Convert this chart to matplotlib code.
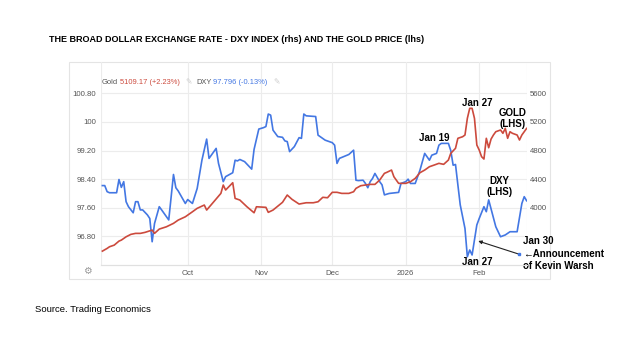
import pandas as pd
import matplotlib.pyplot as plt
from matplotlib.patches import Rectangle

# Dollar index (left scale) - daily closes
dxy_dates = [
    '2025-08-26', '2025-08-27', '2025-08-28', '2025-08-29', '2025-09-01', '2025-09-02',
    '2025-09-03', '2025-09-04', '2025-09-05', '2025-09-06', '2025-09-08', '2025-09-09',
    '2025-09-10', '2025-09-11', '2025-09-12', '2025-09-14', '2025-09-15', '2025-09-16',
    '2025-09-17', '2025-09-19', '2025-09-20', '2025-09-23', '2025-09-25', '2025-09-26',
    '2025-09-27', '2025-09-30', '2025-10-01', '2025-10-03', '2025-10-05', '2025-10-07',
    '2025-10-09', '2025-10-10', '2025-10-13', '2025-10-14', '2025-10-16', '2025-10-17',
    '2025-10-20', '2025-10-21', '2025-10-22', '2025-10-23', '2025-10-25', '2025-10-28',
    '2025-10-29', '2025-10-31', '2025-11-02', '2025-11-03', '2025-11-04', '2025-11-05',
    '2025-11-06', '2025-11-08', '2025-11-10', '2025-11-11', '2025-11-12', '2025-11-13',
    '2025-11-15', '2025-11-17', '2025-11-18', '2025-11-19', '2025-11-20', '2025-11-24',
    '2025-11-25', '2025-11-28', '2025-12-01', '2025-12-02', '2025-12-03', '2025-12-04',
    '2025-12-08', '2025-12-10', '2025-12-11', '2025-12-12', '2025-12-14', '2025-12-15',
    '2025-12-16', '2025-12-17', '2025-12-18', '2025-12-19', '2025-12-21', '2025-12-22',
    '2025-12-23', '2025-12-25', '2025-12-29', '2025-12-30', '2026-01-01', '2026-01-02',
    '2026-01-03', '2026-01-05', '2026-01-07', '2026-01-09', '2026-01-11', '2026-01-12',
    '2026-01-14', '2026-01-15', '2026-01-16', '2026-01-19', '2026-01-20', '2026-01-21',
    '2026-01-22', '2026-01-23', '2026-01-24', '2026-01-26', '2026-01-27', '2026-01-28',
    '2026-01-29', '2026-01-31', '2026-02-01', '2026-02-03', '2026-02-04', '2026-02-05',
    '2026-02-08', '2026-02-10', '2026-02-12', '2026-02-14', '2026-02-17', '2026-02-19',
    '2026-02-20', '2026-02-21',
]
dxy_values = [
    98.22, 98.22, 98.05, 98.02, 98.02, 98.39,
    98.17, 98.33, 97.77, 97.63, 97.46, 97.77,
    97.77, 97.54, 97.54, 97.40, 97.30, 96.65,
    97.16, 97.63, 97.54, 97.26, 98.53, 98.16,
    98.07, 97.72, 97.83, 97.72, 98.14, 98.93,
    99.52, 98.98, 99.26, 98.84, 98.33, 98.47,
    98.58, 98.93, 98.91, 98.95, 98.89, 98.68,
    99.23, 99.80, 99.84, 99.87, 100.22, 100.19,
    99.77, 99.59, 99.57, 99.47, 99.45, 99.17,
    99.31, 99.56, 99.54, 100.22, 100.17, 100.15,
    99.63, 99.49, 99.42, 99.35, 98.84, 98.98,
    99.09, 99.21, 98.37, 98.36, 98.37, 98.28,
    98.16, 98.33, 98.42, 98.56, 98.33, 98.24,
    97.96, 98.00, 98.03, 98.28, 98.33, 98.40,
    98.28, 98.28, 98.65, 99.12, 98.93, 99.07,
    99.12, 99.35, 99.40, 99.40, 99.20, 98.79,
    98.81, 98.24, 97.68, 97.02, 96.23, 96.42,
    96.28, 97.12, 97.30, 97.63, 97.49, 97.82,
    97.07, 96.79, 96.84, 96.93, 96.93, 97.72,
    97.91, 97.796,
]

# Gold price in USD/oz (right scale)
gold_dates = [
    '2025-08-26', '2025-08-28', '2025-08-29', '2025-08-31', '2025-09-02', '2025-09-03',
    '2025-09-05', '2025-09-07', '2025-09-09', '2025-09-11', '2025-09-13', '2025-09-16',
    '2025-09-17', '2025-09-19', '2025-09-22', '2025-09-25', '2025-09-27', '2025-09-30',
    '2025-10-03', '2025-10-05', '2025-10-08', '2025-10-09', '2025-10-12', '2025-10-15',
    '2025-10-16', '2025-10-17', '2025-10-20', '2025-10-21', '2025-10-23', '2025-10-26',
    '2025-10-29', '2025-10-30', '2025-11-03', '2025-11-04', '2025-11-06', '2025-11-10',
    '2025-11-12', '2025-11-14', '2025-11-17', '2025-11-20', '2025-11-23', '2025-11-25',
    '2025-11-27', '2025-11-29', '2025-12-01', '2025-12-03', '2025-12-05', '2025-12-08',
    '2025-12-10', '2025-12-11', '2025-12-13', '2025-12-15', '2025-12-17', '2025-12-19',
    '2025-12-21', '2025-12-23', '2025-12-24', '2025-12-26', '2025-12-27', '2025-12-29',
    '2026-01-01', '2026-01-03', '2026-01-05', '2026-01-07', '2026-01-09', '2026-01-11',
    '2026-01-13', '2026-01-15', '2026-01-17', '2026-01-19', '2026-01-20', '2026-01-22',
    '2026-01-23', '2026-01-25', '2026-01-26', '2026-01-27', '2026-01-28', '2026-01-29',
    '2026-01-30', '2026-01-31', '2026-02-01', '2026-02-02', '2026-02-03', '2026-02-04',
    '2026-02-05', '2026-02-06', '2026-02-07', '2026-02-08', '2026-02-10', '2026-02-11',
    '2026-02-12', '2026-02-13', '2026-02-14', '2026-02-15', '2026-02-17', '2026-02-18',
    '2026-02-19', '2026-02-20', '2026-02-21',
]
gold_values = [
    3394, 3432, 3455, 3478, 3534, 3548,
    3594, 3628, 3642, 3642, 3656, 3688,
    3642, 3702, 3734, 3782, 3828, 3874,
    3944, 3992, 4038, 3968, 4084, 4201,
    4318, 4248, 4350, 4131, 4108, 4014,
    3930, 4014, 4006, 3936, 3968, 4076,
    4178, 4118, 4052, 4070, 4070, 4084,
    4146, 4140, 4216, 4216, 4201, 4201,
    4224, 4271, 4308, 4318, 4327, 4327,
    4387, 4481, 4495, 4527, 4434, 4341,
    4341, 4364, 4411, 4490, 4527, 4574,
    4597, 4621, 4607, 4667, 4761, 4831,
    4971, 4993, 5017, 5250, 5390, 5390,
    5250, 4877, 4807, 4714, 4681, 4971,
    4839, 4960, 5017, 5063, 5087, 5041,
    5110, 4971, 5063, 5041, 5017, 4947,
    5017, 5063, 5109.17,
]

# axis ticks
dxy_ticks = [96.80, 97.60, 98.40, 99.20, 100.00, 100.80]
dxy_tick_labels = ['96.80', '97.60', '98.40', '99.20', '100', '100.80']
gold_ticks = [4000, 4400, 4800, 5200, 5600]
month_ticks = ['2025-10-01', '2025-11-01', '2025-12-01', '2026-01-01', '2026-02-01']
month_labels = ['Oct', 'Nov', 'Dec', '2026', 'Feb']

gold_change = '+2.23%'
dxy_change = '-0.13%'

RED = '#cc4a3d'
BLUE = '#4377e3'
GRID = '#ececec'
TICK = '#555555'
SANS = ['Liberation Sans', 'DejaVu Sans']

dxy = pd.Series(dxy_values, index=pd.to_datetime(dxy_dates))
gold = pd.Series(gold_values, index=pd.to_datetime(gold_dates))

fig = plt.figure(figsize=(6.2, 3.49), dpi=100)
W, H = 620, 349

# white card behind the chart
fig.patches.append(Rectangle((69 / W, 1 - 279 / H), (550 - 69) / W, (279 - 62) / H,
                             transform=fig.transFigure, facecolor='white',
                             edgecolor='#e4e4e4', linewidth=0.8, zorder=-10))

ax = fig.add_axes([101 / W, 1 - 265 / H, (526.7 - 101) / W, (265 - 62) / H])
ax.patch.set_alpha(0)
ax2 = ax.twinx()

ax.set_ylim(96.0, 101.675)
ax2.set_ylim(3200, 6037.5)
ax.set_xlim(pd.Timestamp('2025-08-25 10:00'), pd.Timestamp('2026-02-21 01:00'))

ax.plot(dxy.index, dxy.values, color=BLUE, lw=1.2, zorder=3)
ax2.plot(gold.index, gold.values, color=RED, lw=1.2, zorder=3)

# grid
ax.set_yticks(dxy_ticks)
ax.set_yticklabels(dxy_tick_labels)
ax.set_xticks(pd.to_datetime(month_ticks))
ax.set_xticklabels(month_labels)
ax.grid(True, color=GRID, lw=0.8)
ax.set_axisbelow(True)
ax2.set_yticks(gold_ticks)

for a in (ax, ax2):
    for side in ('top', 'right', 'left'):
        a.spines[side].set_visible(False)
    a.spines['bottom'].set_color('#e0e0e0')
    a.tick_params(length=0, colors=TICK, labelsize=5.6)
    for lab in a.get_yticklabels() + a.get_xticklabels():
        lab.set_family(SANS)
ax.tick_params(axis='y', pad=3.5)
ax.tick_params(axis='x', pad=3.5)
ax2.tick_params(axis='y', pad=2)
ax.axvline(ax.get_xlim()[0], color=GRID, lw=0.8, zorder=0)
ax.axvline(ax.get_xlim()[1], color=GRID, lw=0.8, zorder=0)

# header line with last values
hdr = dict(transform=ax.transAxes, fontsize=5.4, family=SANS, va='center')
ax.text(0.0016, 0.9, 'Gold', color=TICK, **hdr)
ax.text(0.0446, 0.9, f'{gold.iloc[-1]:.2f} ({gold_change})', color=RED, **hdr)
ax.text(0.199, 0.9, '\u270e', transform=ax.transAxes, fontsize=5.5, color='#cccccc',
        family='DejaVu Sans', va='center')
ax.text(0.223, 0.9, 'DXY', color=TICK, **hdr)
ax.text(0.262, 0.9, f'{dxy.iloc[-1]:.3f} ({dxy_change})', color=BLUE, **hdr)
ax.text(0.404, 0.9, '\u270e', transform=ax.transAxes, fontsize=5.5, color='#cccccc',
        family='DejaVu Sans', va='center')

fig.text(87 / W, 1 - 271 / H, '\u2699', fontsize=7, color='#999999',
         family='DejaVu Sans', ha='center', va='center')

# annotations
bold = dict(fontsize=7, fontweight='bold', color='black', family=SANS)
ax.text(pd.Timestamp('2026-01-31'), 100.53, 'Jan 27', ha='center', va='center', **bold)
ax.text(pd.Timestamp('2026-02-15 06:00'), 100.09, 'GOLD\n(LHS)', ha='center', va='center',
        linespacing=1.05, **bold)
ax.text(pd.Timestamp('2026-01-13'), 99.56, 'Jan 19', ha='center', va='center', **bold)
ax.text(pd.Timestamp('2026-02-09 10:00'), 98.20, 'DXY\n(LHS)', ha='center', va='center',
        linespacing=1.05, **bold)
ax.text(pd.Timestamp('2026-01-31'), 96.09, 'Jan 27', ha='center', va='center', **bold)

note_x = pd.Timestamp('2026-02-19 16:00')
ax.text(note_x, 96.67, 'Jan 30', ha='left', va='center', **bold)
ax.text(note_x, 96.31, '\u2190Announcement', ha='left', va='center', **bold)
ax.text(note_x, 95.97, 'of Kevin Warsh', ha='left', va='center', **bold)
ax.annotate('', xy=(pd.Timestamp('2026-01-31 14:00'), 96.67),
            xytext=(pd.Timestamp('2026-02-17 22:00'), 96.30),
            arrowprops=dict(arrowstyle='-|>', color='#222222', lw=0.8,
                            mutation_scale=5, shrinkA=0, shrinkB=0),
            annotation_clip=False)
ax.plot([pd.Timestamp('2026-02-17 22:00')], [96.30], marker='s', ms=1.6, color=BLUE,
        clip_on=False, zorder=4)

fig.text(49 / W, 1 - 39 / H,
         'THE BROAD DOLLAR EXCHANGE RATE - DXY INDEX (rhs) AND THE GOLD PRICE (lhs)',
         fontsize=6.5, fontweight='bold', family=SANS, va='center')
fig.text(35 / W, 1 - 310 / H, 'Source. Trading Economics', fontsize=6.8,
         family=SANS, va='center')

fig.savefig('out.png', dpi=100)
